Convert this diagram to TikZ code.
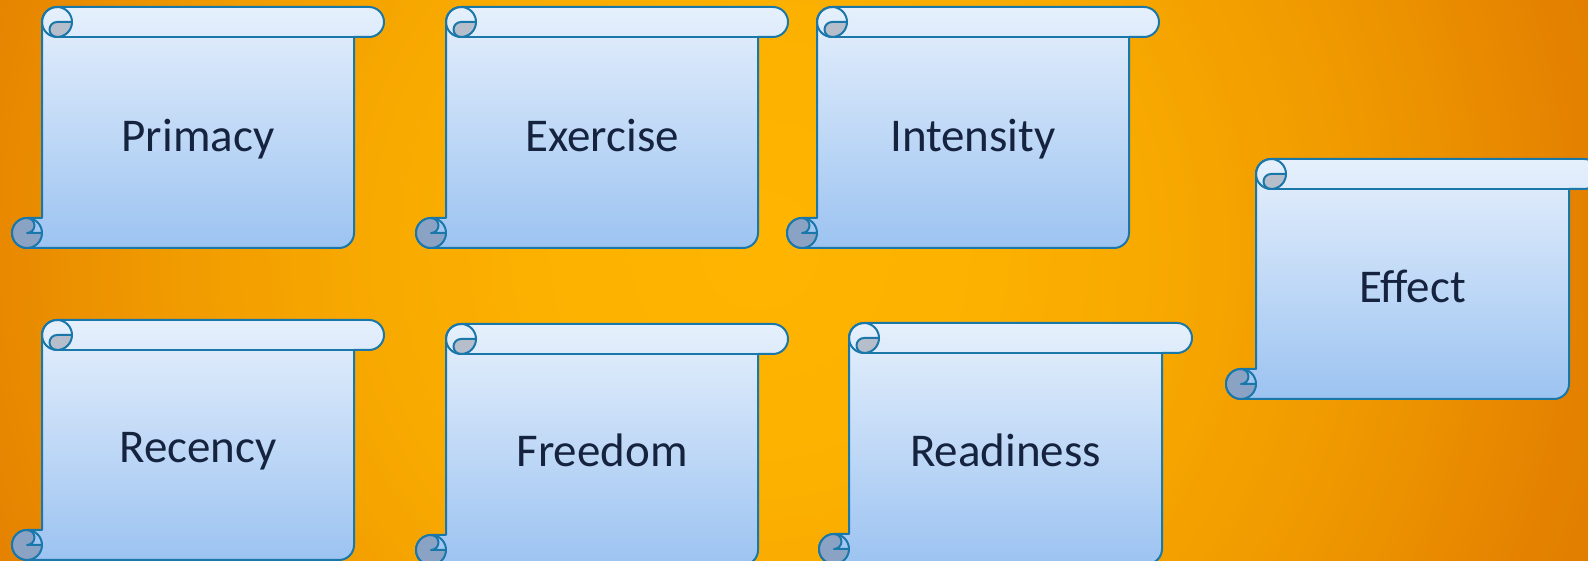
\documentclass[tikz,border=0pt]{standalone}
\usepackage{fontspec}
\setmainfont{Carlito}
\definecolor{scrollline}{HTML}{1A77AA}
\definecolor{scrolltop}{HTML}{E6F0FC}
\definecolor{scrollbot}{HTML}{9CC3F1}
\definecolor{curltop}{HTML}{B6BDCB}
\definecolor{curlbot}{HTML}{8AA2C4}
\definecolor{labeltext}{HTML}{15233F}
\definecolor{bgc0}{HTML}{FFB400}
\definecolor{bgc1}{HTML}{FDB200}
\definecolor{bgc2}{HTML}{F8A900}
\definecolor{bgc3}{HTML}{F09A00}
\definecolor{bgc4}{HTML}{E68500}
\definecolor{bgc5}{HTML}{DC7300}
\tikzset{
  scrollstroke/.style={draw=scrollline, line width=2pt, line join=round},
  lbl/.style={font=\fontsize{47}{56}\selectfont, text=labeltext, anchor=base, inner sep=0pt}
}
% L T R B in pixel coordinates (y measured downward)
\newcommand{\drawscroll}[4]{%
  \pgfmathsetmacro{\scL}{#1}%
  \pgfmathsetmacro{\scR}{#3}%
  \pgfmathsetmacro{\scT}{561-#2}%
  \pgfmathsetmacro{\scB}{561-#4}%
  \shade[top color=scrolltop, bottom color=scrollbot, scrollstroke]
    (\scL,\scB+15) arc[start angle=180,end angle=270,radius=15]
    -- (\scR-45,\scB) arc[start angle=270,end angle=360,radius=15]
    -- (\scR-30,\scT-30) -- (\scR-15,\scT-30) arc[start angle=-90,end angle=90,radius=15]
    -- (\scL+45,\scT) arc[start angle=90,end angle=180,radius=15]
    -- (\scL+30,\scB+30) -- (\scL+15,\scB+30) arc[start angle=90,end angle=180,radius=15] -- cycle;
  \draw[scrollstroke] (\scL+45,\scT-30) -- (\scR-30,\scT-30);
  % top curl
  \fill[curltop] (\scL+45,\scT-15) arc[start angle=90,end angle=270,radius=7.5]
    arc[start angle=270,end angle=360,radius=15] -- cycle;
  \draw[scrollstroke] (\scL+45,\scT-15) circle[radius=15];
  \draw[scrollstroke] (\scL+60,\scT-15) -- (\scL+45,\scT-15) arc[start angle=90,end angle=270,radius=7.5];
  % bottom curl
  \fill[curlbot] (\scL+15,\scB+30) arc[start angle=90,end angle=-90,radius=7.5]
    -- (\scL+30,\scB+15) arc[start angle=0,end angle=-270,radius=15] -- cycle;
  \draw[scrollstroke] (\scL+15,\scB+15) circle[radius=15];
  \draw[scrollstroke] (\scL+15,\scB+30) arc[start angle=90,end angle=-90,radius=7.5] -- (\scL+30,\scB+15);
}
\begin{document}
\begin{tikzpicture}[x=1pt,y=1pt]
\useasboundingbox (0,0) rectangle (1588,561);
\clip (0,0) rectangle (1588,561);
\foreach \r in {1000,990,...,10}{
  \pgfmathtruncatemacro{\sg}{min(4,floor(\r/200))}
  \pgfmathtruncatemacro{\sgn}{\sg+1}
  \pgfmathtruncatemacro{\tp}{(\r-200*\sg)/2}
  \fill[bgc\sgn!\tp!bgc\sg] (760,311) circle[radius=\r];
}

\drawscroll{12}{7}{384}{248}
\drawscroll{416}{7}{788}{248}
\drawscroll{787}{7}{1159}{248}
\drawscroll{1226}{159}{1599}{399}
\drawscroll{12}{320}{384}{560}
\drawscroll{416}{324}{788}{565}
\drawscroll{819}{323}{1192}{564}

\node[lbl] (primacy) at (198,409) {Primacy};
\node[lbl] (exercise) at (602,409) {Exercise};
\node[lbl] (intensity) at (973,409) {Intensity};
\node[lbl] (effect) at (1412.5,258) {Effect};
\node[lbl] (recency) at (198,98) {Recency};
\node[lbl] (freedom) at (602,94) {Freedom};
\node[lbl] (readiness) at (1005.5,94) {Readiness};
\end{tikzpicture}
\end{document}
